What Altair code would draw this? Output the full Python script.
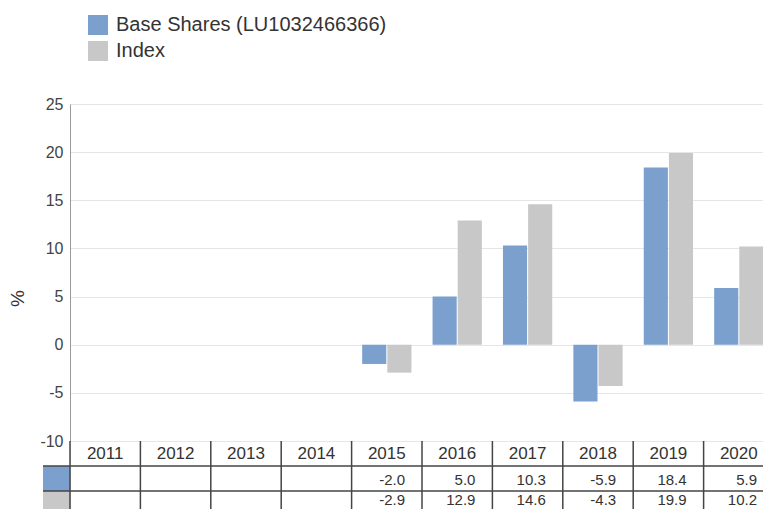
import altair as alt
import pandas as pd

years = ["2011", "2012", "2013", "2014", "2015", "2016", "2017", "2018", "2019", "2020"]
series = ["Base Shares (LU1032466366)", "Index"]
base_vals = [None, None, None, None, -2.0, 5.0, 10.3, -5.9, 18.4, 5.9]
index_vals = [None, None, None, None, -2.9, 12.9, 14.6, -4.3, 19.9, 10.2]
colors = ["#7BA0CD", "#C8C8C8"]
y_ticks = [-10, -5, 0, 5, 10, 15, 20, 25]

VIEW_W = 693      # visible width of the drawing (page is clipped at the right)
SCALE_W = 704     # full width of the x scale (last column runs past the page edge)
PLOT_H = 337
ROW_H = 25
TABLE_END = PLOT_H + 3 * ROW_H
VIEW_H = 405      # visible height (last table row is cut by the page edge)

rows = []
for yr, b, i in zip(years, base_vals, index_vals):
    rows.append({"year": yr, "series": series[0], "value": b})
    rows.append({"year": yr, "series": series[1], "value": i})
df = pd.DataFrame(rows)
bars_df = df.dropna()

table_rows = ["hdr"] + series
hdr_df = pd.DataFrame({"year": years, "row": "hdr", "text": years})
val_df = pd.DataFrame({
    "year": df["year"],
    "row": df["series"],
    "text": [("" if pd.isna(v) else f"{v:.1f}") for v in df["value"]],
})
sw_df = pd.DataFrame({"row": series, "series": series})
hline_df = pd.DataFrame({"row": series})
vline_df = pd.DataFrame({"year": years})

font = "Liberation Sans"

color = alt.Color(
    "series:N",
    scale=alt.Scale(domain=series, range=colors),
    legend=alt.Legend(
        title=None, orient="none", legendX=18, legendY=-89,
        symbolType="square", symbolSize=400, symbolStrokeWidth=0,
        labelFontSize=20, labelColor="#333333", labelFont=font, labelLimit=0,
        labelOffset=8, rowPadding=6, padding=0,
    ),
)

bars = alt.Chart(bars_df).mark_bar().encode(
    x=alt.X("year:N", scale=alt.Scale(domain=years, paddingInner=0.3, paddingOuter=0.15,
                                      range=[0, SCALE_W]), axis=None),
    xOffset=alt.XOffset("series:N", scale=alt.Scale(domain=series, paddingInner=0.04)),
    y=alt.Y(
        "value:Q",
        scale=alt.Scale(domain=[-10, 25], nice=False, zero=False, range=[PLOT_H, 0]),
        axis=alt.Axis(
            values=y_ticks, title="%", titleFontSize=19, titleFontWeight="normal",
            titleColor="#333333", titleFont=font, titleAngle=-90,
            titleX=-53, titleY=194, titleAlign="center", titleBaseline="middle",
            labelFontSize=16, labelColor="#444444", labelFont=font,
            labelExpr="'' + datum.value",
            tickSize=0, labelPadding=7, domainColor="#999999",
            gridColor="#E6E6E6", grid=True,
        ),
    ),
    color=color,
)

ytab = alt.Scale(domain=table_rows, range=[PLOT_H, TABLE_END], paddingInner=0, paddingOuter=0)
xtab = alt.Scale(domain=years, paddingInner=0, paddingOuter=0, range=[0, SCALE_W])

hdr_text = alt.Chart(hdr_df).mark_text(fontSize=17, font=font, color="#333333").encode(
    x=alt.X("year:N", scale=xtab, axis=None),
    y=alt.Y("row:N", scale=ytab, axis=None),
    text="text:N",
)


def value_layer(series_name, dy):
    return alt.Chart(val_df[val_df["row"] == series_name]).mark_text(
        fontSize=15, font=font, color="#333333", align="right", dx=-17, dy=dy
    ).encode(
        x=alt.X("year:N", scale=xtab, axis=None, bandPosition=1),
        y=alt.Y("row:N", scale=ytab, axis=None),
        text="text:N",
    )


val_text1 = value_layer(series[0], 1)
val_text2 = value_layer(series[1], -4)

swatch = alt.Chart(sw_df).mark_rect().encode(
    x=alt.value(-27), x2=alt.value(0),
    y=alt.Y("row:N", scale=ytab, axis=None),
    color=alt.Color("series:N", scale=alt.Scale(domain=series, range=colors), legend=None),
)
vlines = alt.Chart(vline_df).mark_rule(color="#444444", strokeWidth=1.5).encode(
    x=alt.X("year:N", scale=xtab, axis=None, bandPosition=0),
    y=alt.value(PLOT_H), y2=alt.value(TABLE_END),
)
hlines = alt.Chart(hline_df).mark_rule(color="#444444", strokeWidth=1.5).encode(
    y=alt.Y("row:N", scale=ytab, axis=None, bandPosition=0),
    x=alt.value(-27), x2=alt.value(SCALE_W),
)

table = alt.layer(swatch, vlines, hlines, hdr_text, val_text1, val_text2)

chart = alt.layer(bars, table).resolve_scale(
    y="independent", x="independent"
).properties(
    width=VIEW_W, height=VIEW_H,
    autosize=alt.AutoSizeParams(type="none"),
    padding={"left": 62, "top": 96, "right": 0, "bottom": 0},
).configure_view(strokeWidth=0).configure(font=font)

chart.save("out.html", embed_options={"renderer": "svg", "actions": False})
